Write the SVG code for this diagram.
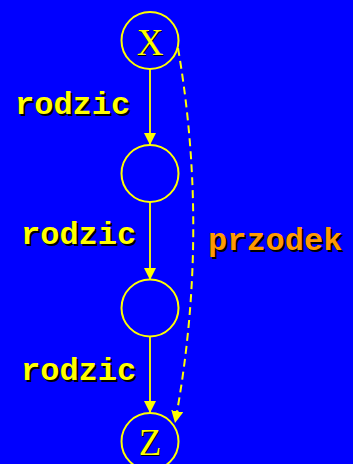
<svg xmlns="http://www.w3.org/2000/svg" width="353" height="464" viewBox="0 0 353 464">
<defs>
<style>
.node{fill:none;stroke:#FFFF00;stroke-width:2}
.edge{fill:none;stroke:#FFFF00;stroke-width:1.8}
.dash{stroke-width:2;stroke-dasharray:8 5}
.lbl{font-family:"Liberation Mono","Courier New",monospace;font-weight:bold;font-size:32px}
.nl{font-family:"Liberation Serif","Times New Roman",serif;font-size:37px;text-anchor:middle}
.sh{fill:#000000}
.y{fill:#FFFF00}
.o{fill:#FF9900}
</style>
<marker id="ah" viewBox="0 0 12 12" refX="12" refY="6" markerWidth="12" markerHeight="12" markerUnits="userSpaceOnUse" orient="auto">
<path d="M0,0 L12,6 L0,12 Z" fill="#FFFF00"/>
</marker>
</defs>
<rect width="353" height="464" fill="#0000FF"/>
<g id="connectors">
<line class="edge" x1="150" y1="69" x2="150" y2="145" marker-end="url(#ah)"/>
<line class="edge" x1="150" y1="202" x2="150" y2="280" marker-end="url(#ah)"/>
<line class="edge" x1="150" y1="336" x2="150" y2="413" marker-end="url(#ah)"/>
<path class="edge dash" d="M178,48 Q210,235 175,423" marker-end="url(#ah)"/>
</g>
<g id="labels">
<text class="lbl sh" x="17" y="116">rodzic</text>
<text class="lbl y" x="15" y="114">rodzic</text>
<text class="lbl sh" x="23" y="246">rodzic</text>
<text class="lbl y" x="21" y="244">rodzic</text>
<text class="lbl sh" x="23" y="382">rodzic</text>
<text class="lbl y" x="21" y="380">rodzic</text>
<text class="lbl sh" x="210" y="252">przodek</text>
<text class="lbl o" x="208" y="250">przodek</text>
</g>
<g id="nodeX">
<circle class="node" cx="150" cy="40.5" r="28.5"/>
<text class="nl sh" x="151" y="56">X</text>
<text class="nl y" x="150" y="55">X</text>
</g>
<g id="node2">
<circle class="node" cx="150" cy="173.5" r="28.5"/>
</g>
<g id="node3">
<circle class="node" cx="150" cy="308" r="28.5"/>
</g>
<g id="nodeZ">
<circle class="node" cx="150" cy="441.5" r="28.5"/>
<text class="nl sh" x="151" y="456">Z</text>
<text class="nl y" x="150" y="455">Z</text>
</g>
</svg>
